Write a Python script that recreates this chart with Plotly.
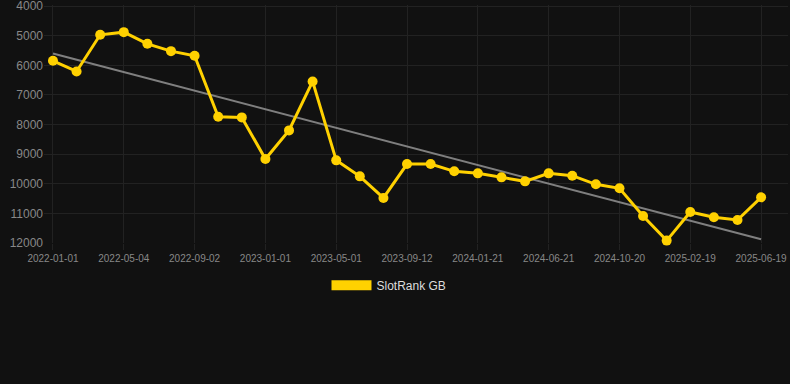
import plotly.graph_objects as go

dates = ["2022-01-01", "2022-02-11", "2022-03-24", "2022-05-04", "2022-06-13", "2022-07-24",
         "2022-09-02", "2022-10-12", "2022-11-21", "2023-01-01", "2023-02-09", "2023-03-21",
         "2023-05-01", "2023-06-15", "2023-07-29", "2023-09-12", "2023-10-25", "2023-12-08",
         "2024-01-21", "2024-03-11", "2024-05-01", "2024-06-21", "2024-08-01", "2024-09-10",
         "2024-10-20", "2024-11-29", "2025-01-09", "2025-02-19", "2025-03-31", "2025-05-10",
         "2025-06-19"]
ranks = [5845, 6205, 4967, 4877, 5271, 5519, 5676, 7735, 7757, 9163, 8196, 6542, 9208, 9748,
         10479, 9332, 9332, 9579, 9647, 9782, 9917, 9647, 9726, 10018, 10153, 11087, 11919,
         10952, 11132, 11222, 10457]
trend_x = [dates[0], dates[-1]]
trend_y = [5600, 11875]
tick_labels = dates[::3]
y_ticks = [4000, 5000, 6000, 7000, 8000, 9000, 10000, 11000, 12000]

YEL = "#FFD100"
fig = go.Figure()
fig.add_trace(go.Scatter(x=trend_x, y=trend_y, mode="lines",
                         line=dict(color="rgba(140,140,140,0.9)", width=2),
                         showlegend=False, hoverinfo="skip"))
fig.add_trace(go.Scatter(x=dates, y=ranks, mode="lines+markers", name="SlotRank GB",
                         line=dict(color=YEL, width=3), marker=dict(color=YEL, size=10),
                         showlegend=False, cliponaxis=False))
fig.add_trace(go.Scatter(x=[None], y=[None], mode="lines", name="SlotRank GB",
                         line=dict(color=YEL, width=12)))

fig.update_layout(
    width=790, height=384,
    paper_bgcolor="#111111", plot_bgcolor="#111111",
    margin=dict(l=44, r=2, t=5, b=141),
    font=dict(family="Liberation Sans, Arial, sans-serif", color="#888888", size=11),
    xaxis=dict(type="category", categoryorder="array", categoryarray=dates,
               range=[-0.38, 31.14], tickmode="array", tickvals=tick_labels,
               ticktext=tick_labels, showgrid=True, gridcolor="#222222", gridwidth=1,
               zeroline=False, showline=False, ticks="outside", ticklen=6,
               tickcolor="#222222", tickfont=dict(size=10, color="#888888"),
               automargin=False),
    yaxis=dict(range=[12000, 3960], tickmode="array", tickvals=y_ticks,
               ticktext=[str(v) for v in y_ticks], ticklabeloverflow="allow",
               showgrid=True, gridcolor="#222222", zeroline=False, showline=False,
               ticks="", tickfont=dict(size=12, color="#888888"), automargin=False),
    legend=dict(orientation="h", x=0.4637, xanchor="center", y=-0.177, yanchor="middle",
                font=dict(size=12, color="#dddddd"), itemwidth=40,
                bgcolor="rgba(0,0,0,0)"),
)
fig.write_html("out.html", config={"displayModeBar": False},
               post_script="document.body.style.margin='0';document.body.style.background='#111111';")
